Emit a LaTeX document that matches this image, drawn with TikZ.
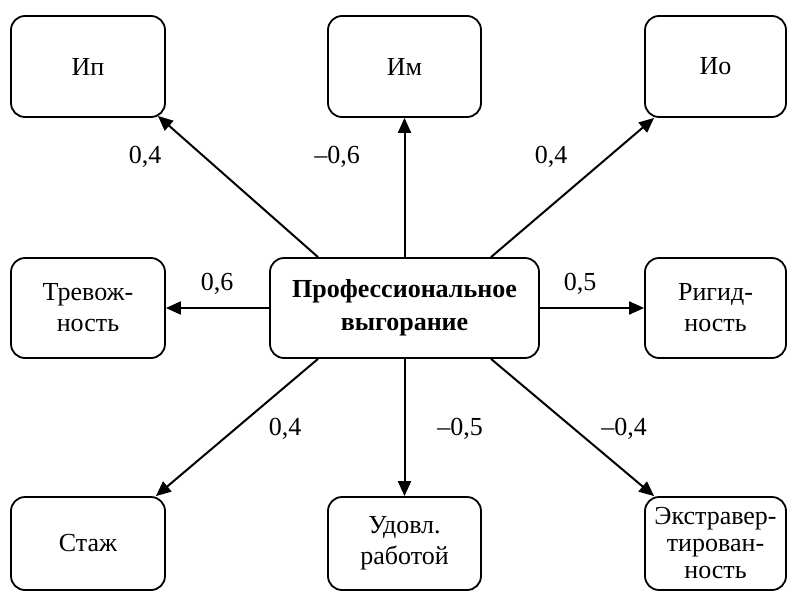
\documentclass[tikz,border=0pt]{standalone}
\usepackage{fontspec}
\setmainfont{Liberation Serif}
\usetikzlibrary{arrows.meta}
\begin{document}
\begin{tikzpicture}[x=1pt,y=-1pt,
  box/.style={draw, line width=1.8pt, rounded corners=14pt, align=center, inner sep=2pt, font=\fontsize{26}{31}\selectfont},
  arr/.style={line width=2pt, -{Triangle[length=15pt,width=13pt]}},
  lbl/.style={font=\fontsize{26}{30}\selectfont}]
\useasboundingbox (0,0) rectangle (788,592);
\node[box, minimum width=154pt, minimum height=101pt] (ip) at (88,66.5) {Ип};
\node[box, minimum width=153pt, minimum height=101pt] (im) at (404.5,66.5) {Им};
\node[box, minimum width=141pt, minimum height=101pt] (io) at (715.5,66.5) {Ио};
\node[box, minimum width=154pt, minimum height=100pt] (tr) at (88,308) {Тревож-\\ность};
\node[box, minimum width=269pt, minimum height=100pt, font=\fontsize{26}{33}\selectfont\bfseries] (pv) at (404.5,308) {Профессиональное\\выгорание};
\node[box, minimum width=141pt, minimum height=100pt] (rg) at (715.5,308) {Ригид-\\ность};
\node[box, minimum width=154pt, minimum height=93pt] (st) at (88,543.5) {Стаж};
\node[box, minimum width=153pt, minimum height=93pt] (ud) at (404.5,543.5) {Удовл.\\работой};
\node[box, minimum width=141pt, minimum height=93pt, font=\fontsize{26}{27}\selectfont, inner sep=0pt] (ex) at (715.5,543.5) {Экстравер-\\тирован-\\ность};
\draw[arr] ([xshift=-86.5pt]pv.north) -- ([xshift=-8pt,yshift=2pt]ip.south east);
\draw[arr] (pv.north) -- (im.south);
\draw[arr] ([xshift=86.5pt]pv.north) -- ([xshift=10pt,yshift=0pt]io.south west);
\draw[arr] (pv.west) -- (tr.east);
\draw[arr] (pv.east) -- (rg.west);
\draw[arr] ([xshift=-86.5pt]pv.south) -- ([xshift=-10pt]st.north east);
\draw[arr] (pv.south) -- (ud.north);
\draw[arr] ([xshift=86.5pt]pv.south) -- ([xshift=10pt]ex.north west);
\node[lbl] (l1) at (145,157) {0,4};
\node[lbl] (l2) at (337,157) {–0,6};
\node[lbl] (l3) at (551,157) {0,4};
\node[lbl] (l4) at (217,284) {0,6};
\node[lbl] (l5) at (580,284) {0,5};
\node[lbl] (l6) at (285,429) {0,4};
\node[lbl] (l7) at (460,429) {–0,5};
\node[lbl] (l8) at (624,429) {–0,4};
\end{tikzpicture}
\end{document}
